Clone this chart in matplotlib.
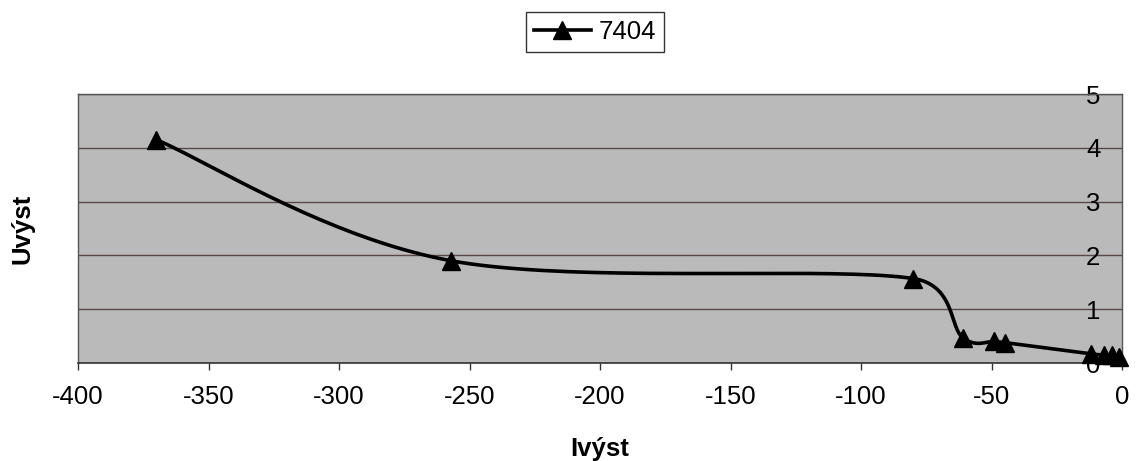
import numpy as np
import matplotlib
matplotlib.use('Agg')
import matplotlib.pyplot as plt
from matplotlib.ticker import FixedLocator

# values
ivyst = [-370, -257, -80, -61, -49, -45, -12, -7, -4, -1]
uvyst = [4.15, 1.90, 1.57, 0.47, 0.40, 0.38, 0.17, 0.15, 0.14, 0.12]
series_name = '7404'
x_ticks = list(range(-400, 1, 50))
y_ticks = [0, 1, 2, 3, 4, 5]

plt.rcParams['font.family'] = ['Liberation Sans', 'DejaVu Sans']
plt.rcParams['axes.unicode_minus'] = False
FS = 18.5


def excel_smooth(xs, ys, n=40, lim=0.85):
    # smoothed line like Excel: cubic Bezier, tangents = neighbour chord / 6,
    # shortened when they would run past the segment in x
    p = np.column_stack([xs, ys]).astype(float)
    p = np.vstack([p[0], p, p[-1]])
    out = []
    t = np.linspace(0, 1, n)[:, None]
    for i in range(1, len(p) - 2):
        p0, p3 = p[i], p[i + 1]
        dx = abs(p3[0] - p0[0])
        d1 = (p[i + 1] - p[i - 1]) / 6.0
        d2 = (p[i + 2] - p[i]) / 6.0
        if abs(d1[0]) > dx * lim:
            d1 = d1 * (dx * lim) / abs(d1[0])
        if abs(d2[0]) > dx * lim:
            d2 = d2 * (dx * lim) / abs(d2[0])
        c1 = p0 + d1
        c2 = p3 - d2
        seg = ((1 - t) ** 3) * p0 + 3 * ((1 - t) ** 2) * t * c1 + 3 * (1 - t) * t ** 2 * c2 + t ** 3 * p3
        out.append(seg if i == 1 else seg[1:])
    seg = np.vstack(out)
    return seg[:, 0], seg[:, 1]


W, H = 1137, 461
fig = plt.figure(figsize=(W / 100, H / 100), dpi=100)
fig.patch.set_facecolor('white')
ax = fig.add_axes([78 / W, 1 - 363 / H, (1122 - 78) / W, (363 - 94) / H])
ax.set_facecolor('#bababa')

sx, sy = excel_smooth(ivyst, uvyst)
ax.plot(sx, sy, color='black', lw=2.6, zorder=3)
ax.plot(ivyst, uvyst, ls='none', marker='^', ms=12.5, color='black', zorder=4, clip_on=False)

ax.set_xlim(-400, 0)
ax.set_ylim(0, 5)
ax.xaxis.set_major_locator(FixedLocator(x_ticks))
ax.yaxis.set_major_locator(FixedLocator(y_ticks))
ax.set_xticklabels([str(v) for v in x_ticks])
ax.set_yticklabels([str(v) for v in y_ticks])

ax.grid(axis='y', color='#5a4848', lw=1.0)
ax.set_axisbelow(True)

ax.tick_params(axis='x', direction='out', length=5, width=1, color='#333333', labelsize=FS, pad=11)
ax.tick_params(axis='y', left=False, right=False, labelleft=False, labelright=True,
               length=0, labelsize=FS, pad=-26)

for side in ['left', 'top', 'right']:
    ax.spines[side].set_color('#555555')
    ax.spines[side].set_linewidth(1.0)
ax.spines['bottom'].set_color('#333333')
ax.spines['bottom'].set_linewidth(1.2)

ax.set_xlabel('Ivýst', fontsize=FS, fontweight='bold', labelpad=20)
fig.text(23 / W, 1 - 229 / H, 'Uvýst', rotation=90, fontsize=FS, fontweight='bold',
         ha='center', va='center')

fig.legend([plt.Line2D([], [], color='black', lw=2.6, marker='^', ms=12.5)], [series_name],
           loc='center', bbox_to_anchor=(595 / W, 1 - 32 / H), fontsize=FS,
           frameon=True, fancybox=False, edgecolor='black', handlelength=2.2,
           borderpad=0.3, handletextpad=0.3)

fig.savefig('out.png', dpi=100)
